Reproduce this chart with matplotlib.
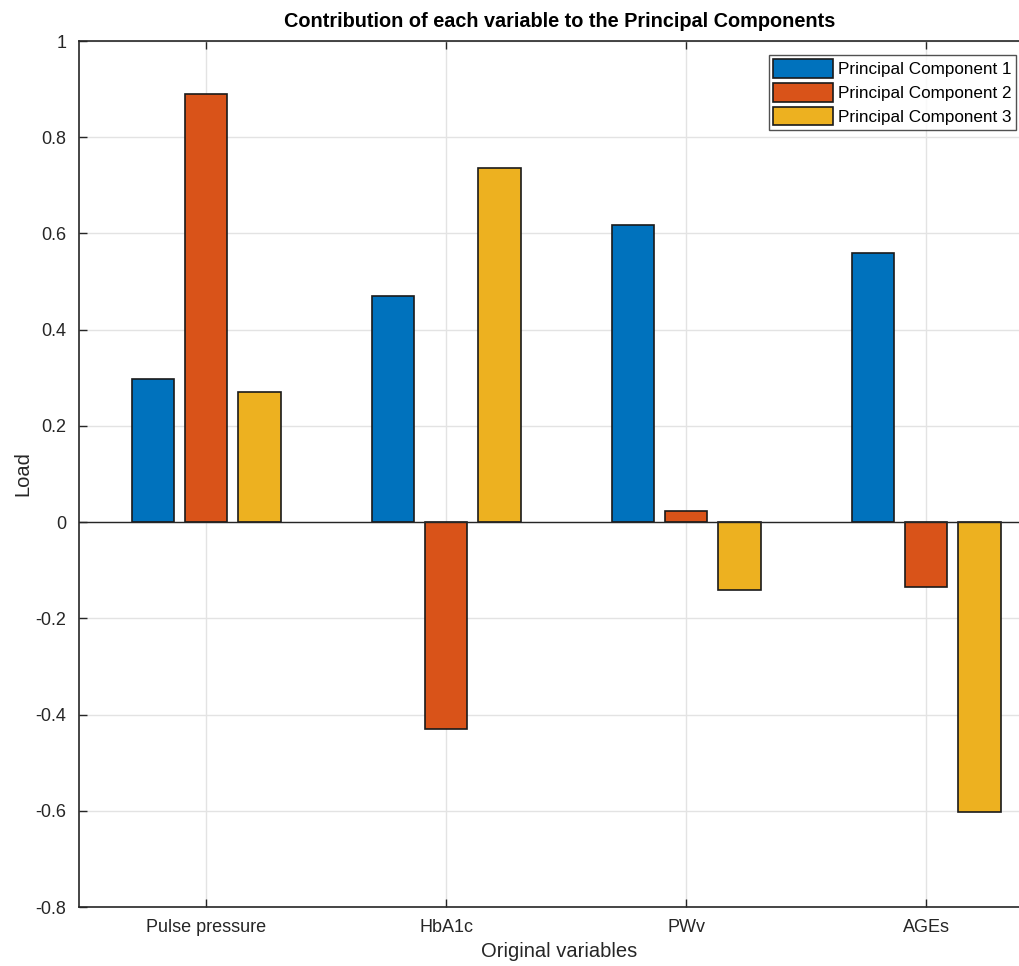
import matplotlib
matplotlib.use("Agg")
import matplotlib.pyplot as plt
import numpy as np

plt.rcParams["font.family"] = ["Liberation Sans", "DejaVu Sans"]

variables = ["Pulse pressure", "HbA1c", "PWv", "AGEs"]
components = ["Principal Component 1", "Principal Component 2", "Principal Component 3"]
pc1 = [0.297, 0.470, 0.617, 0.560]
pc2 = [0.890, -0.430, 0.023, -0.135]
pc3 = [0.271, 0.737, -0.142, -0.603]
colors = ["#0072BD", "#D95319", "#EDB120"]
yticks = [-0.8, -0.6, -0.4, -0.2, 0, 0.2, 0.4, 0.6, 0.8, 1]

fig = plt.figure(figsize=(10.19, 9.66), dpi=100)
ax = fig.add_axes([79 / 1019, 59 / 966, 961 / 1019, 866 / 966])

x = np.arange(1, len(variables) + 1)
offset = 0.222
width = 0.177
for i, (vals, name) in enumerate(zip([pc1, pc2, pc3], components)):
    ax.bar(x + (i - 1) * offset, vals, width, color=colors[i], edgecolor="#1a1a1a",
           linewidth=1.2, label=name, zorder=3)

ax.axhline(0, color="#262626", linewidth=1.0, zorder=4)

ax.set_xlim(0.47, 0.47 + 961 / 240)
ax.set_ylim(-0.8, 1)
ax.set_yticks(yticks)
ax.set_yticklabels(["%g" % v for v in yticks])
ax.set_xticks(x)
ax.set_xticklabels(variables)

ax.grid(True, color="#e3e3e3", linewidth=1.0, zorder=0)
ax.set_axisbelow(True)
ax.tick_params(direction="in", top=True, right=False, length=6, width=1.0,
               colors="#262626", labelsize=13, pad=9)
for side in ["left", "bottom", "top"]:
    ax.spines[side].set_color("#262626")
    ax.spines[side].set_linewidth(1.2)
ax.spines["right"].set_visible(False)

ax.set_ylabel("Load", fontsize=14.5, color="#262626", labelpad=2)
ax.set_xlabel("Original variables", fontsize=14.5, color="#262626", labelpad=4)
ax.set_title("Contribution of each variable to the Principal Components",
             fontsize=14.3, fontweight="bold", pad=10)

leg = ax.legend(loc="upper right", bbox_to_anchor=(1016 / 1019, 1 - 55 / 966),
                bbox_transform=fig.transFigure, fontsize=12.3, frameon=True,
                fancybox=False, edgecolor="#262626", handlelength=3.5,
                handleheight=1.3, handletextpad=0.3, labelspacing=0.3,
                borderpad=0.25, borderaxespad=0)
leg.get_frame().set_linewidth(1.0)

fig.savefig("out.png", dpi=100)
